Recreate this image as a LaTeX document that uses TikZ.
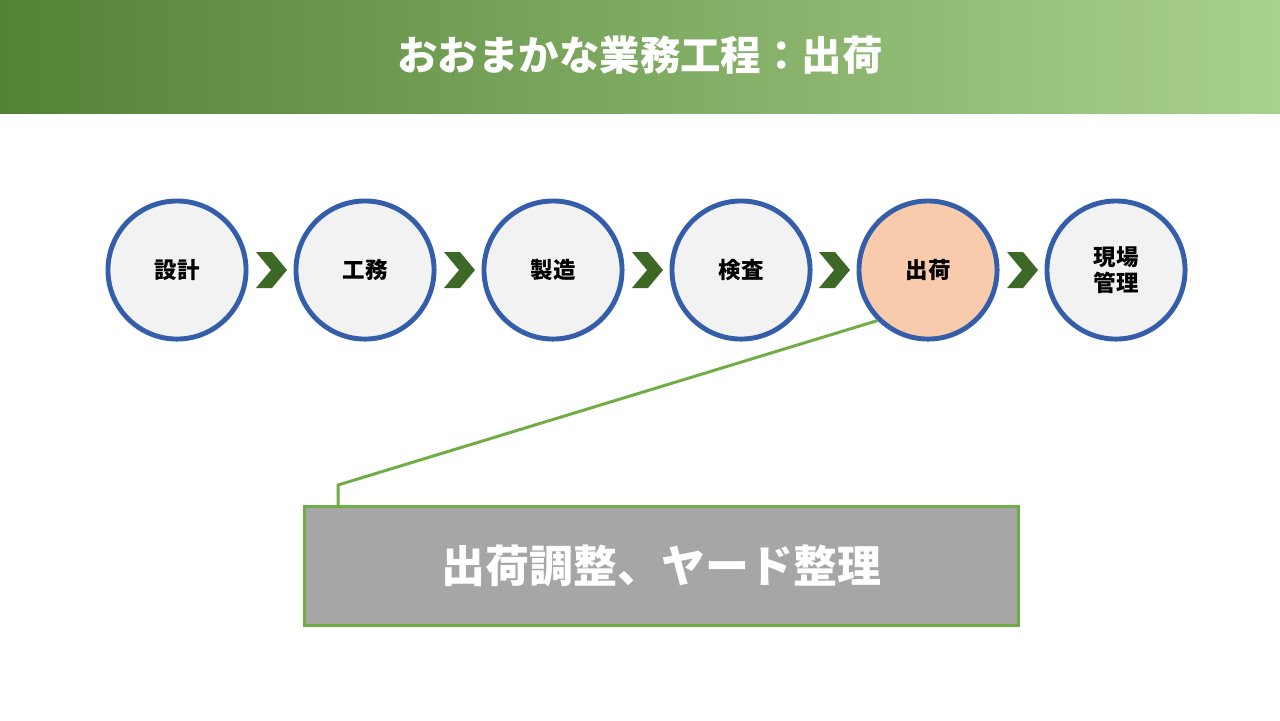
\documentclass[tikz,border=0pt]{standalone}
\usepackage{fontspec}
\setmainfont{Noto Sans CJK JP}
\definecolor{hdrdark}{RGB}{84,130,53}
\definecolor{hdrlight}{RGB}{169,209,142}
\definecolor{ringblue}{RGB}{52,94,170}
\definecolor{chevgreen}{RGB}{62,104,38}
\definecolor{leadgreen}{RGB}{112,173,71}
\definecolor{stepfill}{RGB}{242,242,242}
\definecolor{hotfill}{RGB}{248,203,173}
\tikzset{
  stepnode/.style={circle, draw=ringblue, line width=1.4pt, fill=stepfill,
    minimum size=1.38cm, inner sep=0pt, align=center,
    font=\fontsize{6.4}{7.6}\selectfont\bfseries},
  chev/.style={fill=chevgreen},
}
\begin{document}
\begin{tikzpicture}[x=0.01cm, y=-0.01cm]
  \useasboundingbox (0,0) rectangle (1280,720);
  % header band
  \shade[left color=hdrdark, right color=hdrlight] (0,0) rectangle (1280,113);
  \node[text=white, font=\fontsize{11.5}{13}\selectfont\bfseries] (title) at (640,55) {おおまかな業務工程：出荷};
  % process steps
  \node[stepnode] (s1) at (177,270) {設計};
  \node[stepnode] (s2) at (365,270) {工務};
  \node[stepnode] (s3) at (553,270) {製造};
  \node[stepnode] (s4) at (741,270) {検査};
  \node[stepnode, fill=hotfill] (s5) at (928,270) {出荷};
  \node[stepnode] (s6) at (1116,270) {現場\\管理};
  % chevrons
  \foreach \cx in {271,459,647,834,1022}
    \fill[chev] (\cx-15,252) -- (\cx+1,252) -- (\cx+16,270) -- (\cx+1,288)
      -- (\cx-15,288) -- (\cx,270) -- cycle;
  % callout
  \node[draw=leadgreen, line width=0.85pt, fill=black!35, minimum width=7.13cm,
    minimum height=1.18cm, text=white, font=\fontsize{12.5}{14}\selectfont\bfseries]
    (note) at (661.5,566) {出荷調整、ヤード整理};
  \coordinate (knee) at (338,485);
  \draw[leadgreen, line width=0.85pt] (s5.-135) -- (knee) -- (knee |- note.north);
\end{tikzpicture}
\end{document}
